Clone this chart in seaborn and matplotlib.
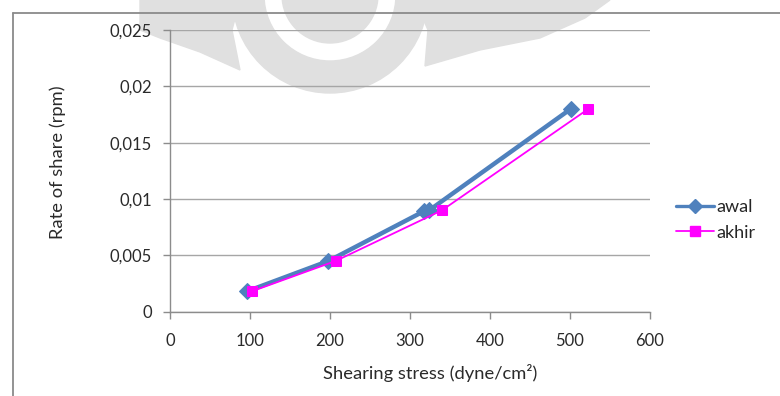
import matplotlib
matplotlib.use("Agg")
import matplotlib.pyplot as plt
import seaborn as sns
import pandas as pd
from matplotlib.ticker import FixedLocator, FixedFormatter
from matplotlib.patches import Wedge, Polygon
from matplotlib.lines import Line2D

# ---- data ----
awal_x = [96, 198, 317, 324, 501]
awal_y = [0.0018, 0.0045, 0.0089, 0.0090, 0.0180]
akhir_x = [102, 207, 340, 523]
akhir_y = [0.0018, 0.0045, 0.0090, 0.0180]
series_names = ["awal", "akhir"]
x_ticks = [0, 100, 200, 300, 400, 500, 600]
y_ticks = [0, 0.005, 0.01, 0.015, 0.02, 0.025]
y_tick_labels = ["0", "0,005", "0,01", "0,015", "0,02", "0,025"]
x_label = "Shearing stress (dyne/cm²)"
y_label = "Rate of share (rpm)"

df_awal = pd.DataFrame({"x": awal_x, "y": awal_y, "series": series_names[0]})
df_akhir = pd.DataFrame({"x": akhir_x, "y": akhir_y, "series": series_names[1]})

sns.set_theme(style="white")
plt.rcParams['font.family'] = ['Lato', 'DejaVu Sans']

W, H = 780, 396
fig = plt.figure(figsize=(W / 100, H / 100), dpi=100)
fig.patch.set_facecolor("white")

# faint watermark (decorative), pixel coords with y measured from top
wm = "#e0e0e0"
def P(x, y):
    return (x, H - y)
fig.patches.append(Wedge(P(330, -5), 98, 180, 360, width=32, color=wm,
                         transform=None, zorder=-1))
fig.patches.append(Wedge(P(330, -5), 48, 180, 360, color=wm,
                         transform=None, zorder=-1))
fig.patches.append(Polygon([P(415, 0), P(610, 0), P(585, 18), P(540, 38),
                            P(480, 50), P(425, 66), P(428, 30)],
                           closed=True, color=wm, transform=None, zorder=-1))
fig.patches.append(Polygon([P(140, 0), P(240, 0), P(232, 30), P(240, 70),
                            P(200, 52), P(160, 38), P(140, 30)],
                           closed=True, color=wm, transform=None, zorder=-1))

# frame lines
fig.add_artist(Line2D([13 / W, 13 / W], [0, 1 - 13 / H], color="#8a8a8a", lw=1.3,
                      transform=fig.transFigure))
fig.add_artist(Line2D([13 / W, 1], [1 - 13 / H, 1 - 13 / H], color="#8a8a8a", lw=1.3,
                      transform=fig.transFigure))

ax = fig.add_axes([170 / W, 1 - 311.7 / H, 480 / W, (311.7 - 30) / H])
ax.patch.set_alpha(0)

sns.lineplot(data=df_awal, x="x", y="y", ax=ax, sort=False, color="#4F81BD",
             lw=3.2, marker="D", markersize=8, markeredgecolor="#4F81BD",
             label=series_names[0], legend=False, zorder=3)
sns.lineplot(data=df_akhir, x="x", y="y", ax=ax, sort=False, color="#FF00FF",
             lw=1.3, marker="s", markersize=7, markeredgecolor="#FF00FF",
             label=series_names[1], legend=False, zorder=4)

ax.set_xlim(0, 600)
ax.set_ylim(0, 0.025)
ax.xaxis.set_major_locator(FixedLocator(x_ticks))
ax.yaxis.set_major_locator(FixedLocator(y_ticks))
ax.yaxis.set_major_formatter(FixedFormatter(y_tick_labels))
ax.grid(axis="y", color="#a6a6a6", lw=1.0)
ax.grid(axis="x", visible=False)
for s in ["top", "right"]:
    ax.spines[s].set_visible(False)
for s in ["left", "bottom"]:
    ax.spines[s].set_color("#8c8c8c")
    ax.spines[s].set_linewidth(1.0)
ax.tick_params(axis="both", which="major", length=5, width=1.0, color="#8c8c8c",
               labelsize=12, labelcolor="#2a2a2a", pad=8, direction="out",
               bottom=True, left=True)
ax.tick_params(axis="x", pad=10)

ax.set_xlabel(x_label, fontsize=13.2, color="#2a2a2a")
ax.set_ylabel(y_label, fontsize=13.2, color="#2a2a2a")
ax.xaxis.set_label_coords((430 - 170) / 480, -(373 - 311.7) / 281.7)
ax.yaxis.set_label_coords(-(170 - 58) / 480, (311.7 - 162) / 281.7)
ax.xaxis.label.set_va("center")
ax.yaxis.label.set_va("center")

handles = [
    Line2D([], [], color="#4F81BD", lw=2.4, marker="D", markersize=7),
    Line2D([], [], color="#FF00FF", lw=1.3, marker="s", markersize=7),
]
fig.legend(handles, series_names, loc="center left",
           bbox_to_anchor=(676 / W, 1 - 220 / H), frameon=False,
           fontsize=13, handlelength=2.1, handletextpad=0.15, labelspacing=0.5,
           borderaxespad=0, borderpad=0)

fig.savefig("out.png", dpi=100)
